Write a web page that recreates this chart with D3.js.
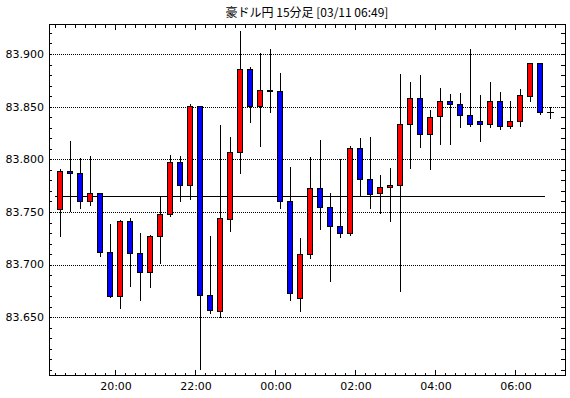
<!DOCTYPE html>
<html>
<head>
<meta charset="utf-8">
<script src="https://cdn.jsdelivr.net/npm/d3@7"></script>
<style>
  body { margin: 0; background: #ffffff; }
</style>
</head>
<body>
<script>
// -----------------------------
// Data (15 minute candles, AUD/JPY)
// -----------------------------

const TITLE = "豪ドル円 15分足 [03/11 06:49]";

const TIMES = [
  "18:30", "18:45", "19:00", "19:15", "19:30", "19:45",
  "20:00", "20:15", "20:30", "20:45", "21:00", "21:15", "21:30", "21:45",
  "22:00", "22:15", "22:30", "22:45", "23:00", "23:15", "23:30", "23:45",
  "00:00", "00:15", "00:30", "00:45", "01:00", "01:15", "01:30", "01:45",
  "02:00", "02:15", "02:30", "02:45", "03:00", "03:15", "03:30", "03:45",
  "04:00", "04:15", "04:30", "04:45", "05:00", "05:15", "05:30", "05:45",
  "06:00", "06:15", "06:30", "06:45"
];

const OPEN = [
  83.753, 83.789, 83.787, 83.760, 83.768, 83.712,
  83.670, 83.741, 83.711, 83.693, 83.727, 83.748, 83.797, 83.776,
  83.851, 83.671, 83.656, 83.743, 83.807, 83.886, 83.851, 83.866,
  83.865, 83.760, 83.668, 83.710, 83.773, 83.755, 83.737, 83.730,
  83.811, 83.781, 83.768, 83.774, 83.776, 83.834, 83.858, 83.824,
  83.841, 83.855, 83.853, 83.842, 83.836, 83.834, 83.855, 83.832,
  83.836, 83.860, 83.891, 83.845
];

const HIGH = [
  83.791, 83.817, 83.801, 83.803, 83.768, 83.739,
  83.742, 83.744, 83.730, 83.728, 83.765, 83.804, 83.803, 83.853,
  83.851, 83.727, 83.833, 83.821, 83.922, 83.888, 83.901, 83.905,
  83.882, 83.793, 83.725, 83.802, 83.818, 83.768, 83.800, 83.813,
  83.820, 83.821, 83.785, 83.792, 83.881, 83.873, 83.880, 83.847,
  83.868, 83.862, 83.863, 83.905, 83.861, 83.873, 83.864, 83.855,
  83.867, 83.891, 83.891, 83.850
];

const LOW = [
  83.727, 83.751, 83.754, 83.757, 83.708, 83.669,
  83.659, 83.680, 83.666, 83.679, 83.702, 83.746, 83.760, 83.762,
  83.601, 83.654, 83.650, 83.732, 83.787, 83.835, 83.813, 83.845,
  83.754, 83.666, 83.656, 83.706, 83.734, 83.684, 83.726, 83.728,
  83.765, 83.754, 83.749, 83.741, 83.675, 83.792, 83.812, 83.791,
  83.815, 83.815, 83.831, 83.832, 83.817, 83.831, 83.829, 83.830,
  83.832, 83.855, 83.843, 83.839
];

const CLOSE = [
  83.789, 83.787, 83.760, 83.768, 83.712, 83.670,
  83.741, 83.711, 83.693, 83.727, 83.748, 83.797, 83.776, 83.851,
  83.671, 83.657, 83.744, 83.807, 83.886, 83.851, 83.866, 83.865,
  83.760, 83.673, 83.710, 83.773, 83.755, 83.737, 83.730, 83.811,
  83.781, 83.767, 83.774, 83.776, 83.834, 83.858, 83.824, 83.840,
  83.855, 83.853, 83.842, 83.834, 83.834, 83.855, 83.832, 83.836,
  83.861, 83.891, 83.845, 83.845
];

// reference level drawn across the chart
const BASE_LEVEL = 83.7655;

const Y_TICKS = [83.650, 83.700, 83.750, 83.800, 83.850, 83.900];
const X_LABELS = ["20:00", "22:00", "00:00", "02:00", "04:00", "06:00"];

// -----------------------------
// SVG Setup
// -----------------------------

const WIDTH = 570;
const HEIGHT = 398;

const PLOT_LEFT = 49;
const PLOT_RIGHT = 565;
const PLOT_TOP = 24;
const PLOT_BOTTOM = 375;

const svg = d3.select("body")
  .append("svg")
  .attr("width", WIDTH)
  .attr("height", HEIGHT)
  .style("display", "block")
  .style("background", "#ffffff");

const crisp = v => Math.round(v) + 0.5;

// times after midnight belong to the next day
const parseTime = d3.utcParse("%Y-%m-%d %H:%M");
function toDate(t) {
  const day = +t.slice(0, 2) >= 12 ? "2025-03-10" : "2025-03-11";
  return parseTime(`${day} ${t}`);
}

const candles = TIMES.map((t, i) => ({
  date: toDate(t),
  open: OPEN[i],
  high: HIGH[i],
  low: LOW[i],
  close: CLOSE[i]
}));

// -----------------------------
// Scales
// -----------------------------

const x = d3.scaleUtc()
  .domain([toDate("18:21"), toDate("07:15")])
  .range([PLOT_LEFT, PLOT_RIGHT]);

const y = d3.scaleLinear()
  .domain([83.5952, 83.9285])
  .range([PLOT_BOTTOM, PLOT_TOP]);

const centerOf = d => Math.round(x(d3.utcMinute.offset(d.date, 7.5)));

// -----------------------------
// Grid and reference line
// -----------------------------

svg.append("g")
  .selectAll("line")
  .data(Y_TICKS)
  .join("line")
  .attr("x1", PLOT_LEFT)
  .attr("x2", PLOT_RIGHT)
  .attr("y1", d => crisp(y(d)))
  .attr("y2", d => crisp(y(d)))
  .attr("stroke", "#000")
  .attr("stroke-dasharray", "1,1")
  .attr("shape-rendering", "crispEdges");

svg.append("line")
  .attr("x1", x(candles[0].date))
  .attr("x2", x(candles[candles.length - 1].date))
  .attr("y1", crisp(y(BASE_LEVEL)))
  .attr("y2", crisp(y(BASE_LEVEL)))
  .attr("stroke", "#000")
  .attr("shape-rendering", "crispEdges");

// -----------------------------
// Candles
// -----------------------------

const candleGroup = svg.append("g")
  .attr("shape-rendering", "crispEdges");

// wicks
candleGroup.selectAll("line.wick")
  .data(candles)
  .join("line")
  .attr("class", "wick")
  .attr("x1", d => centerOf(d) + 0.5)
  .attr("x2", d => centerOf(d) + 0.5)
  .attr("y1", d => Math.round(y(d.high)))
  .attr("y2", d => Math.round(y(d.low)) + 1)
  .attr("stroke", "#000");

// bodies
const bodies = candles.filter(d => d.open !== d.close);
candleGroup.selectAll("rect.body")
  .data(bodies)
  .join("rect")
  .attr("class", "body")
  .attr("x", d => centerOf(d) - 2.5)
  .attr("y", d => crisp(y(Math.max(d.open, d.close))))
  .attr("width", 5)
  .attr("height", d => Math.max(1, crisp(y(Math.min(d.open, d.close))) - crisp(y(Math.max(d.open, d.close)))))
  .attr("fill", d => d.close > d.open ? "#ff0000" : "#0000ff")
  .attr("stroke", "#000")
  .attr("stroke-width", 1);

// doji
candleGroup.selectAll("line.doji")
  .data(candles.filter(d => d.open === d.close))
  .join("line")
  .attr("class", "doji")
  .attr("x1", d => centerOf(d) - 3)
  .attr("x2", d => centerOf(d) + 4)
  .attr("y1", d => crisp(y(d.open)))
  .attr("y2", d => crisp(y(d.open)))
  .attr("stroke", "#000");

// -----------------------------
// Axes
// -----------------------------

const minorY = d3.range(83.60, 83.925, 0.01);
const minorX = d3.utcMinute.every(15).range(x.domain()[0], x.domain()[1]);
const majorX = d3.utcHour.every(2).range(x.domain()[0], x.domain()[1]);

const axisGroup = svg.append("g")
  .attr("stroke", "#000")
  .attr("shape-rendering", "crispEdges");

// left and right ticks
axisGroup.selectAll("line.ly")
  .data(minorY)
  .join("line")
  .attr("x1", PLOT_LEFT)
  .attr("x2", PLOT_LEFT + 3)
  .attr("y1", d => crisp(y(d)))
  .attr("y2", d => crisp(y(d)));

axisGroup.selectAll("line.ry")
  .data(minorY)
  .join("line")
  .attr("x1", PLOT_RIGHT - 4)
  .attr("x2", PLOT_RIGHT)
  .attr("y1", d => crisp(y(d)))
  .attr("y2", d => crisp(y(d)));

// top and bottom ticks
const isMajor = d => majorX.some(m => +m === +d);

axisGroup.selectAll("line.tx")
  .data(minorX)
  .join("line")
  .attr("x1", d => crisp(x(d)))
  .attr("x2", d => crisp(x(d)))
  .attr("y1", PLOT_TOP)
  .attr("y2", d => PLOT_TOP + (isMajor(d) ? 6 : 4));

axisGroup.selectAll("line.bx")
  .data(minorX)
  .join("line")
  .attr("x1", d => crisp(x(d)))
  .attr("x2", d => crisp(x(d)))
  .attr("y1", d => PLOT_BOTTOM + 1 - (isMajor(d) ? 6 : 3))
  .attr("y2", PLOT_BOTTOM + 1);

// frame
axisGroup.append("rect")
  .attr("x", PLOT_LEFT + 0.5)
  .attr("y", PLOT_TOP + 0.5)
  .attr("width", PLOT_RIGHT - PLOT_LEFT)
  .attr("height", PLOT_BOTTOM - PLOT_TOP)
  .attr("fill", "none");

// y labels
svg.append("g")
  .selectAll("text")
  .data(Y_TICKS)
  .join("text")
  .attr("x", PLOT_LEFT - 5)
  .attr("y", d => y(d))
  .attr("dy", "0.35em")
  .attr("text-anchor", "end")
  .attr("font-family", "DejaVu Sans")
  .attr("font-size", 11)
  .attr("fill", "#000")
  .text(d3.format(".3f"));

// x labels
svg.append("g")
  .selectAll("text")
  .data(majorX)
  .join("text")
  .attr("x", d => x(d) + 1)
  .attr("y", PLOT_BOTTOM + 15)
  .attr("text-anchor", "middle")
  .attr("font-family", "DejaVu Sans")
  .attr("font-size", 11)
  .attr("fill", "#000")
  .text((d, i) => X_LABELS[i]);

// title
svg.append("text")
  .attr("x", (PLOT_LEFT + PLOT_RIGHT) / 2)
  .attr("y", 17)
  .attr("text-anchor", "middle")
  .attr("font-family", "Noto Sans CJK JP")
  .attr("font-size", 12)
  .attr("fill", "#000")
  .text(TITLE);
</script>
</body>
</html>
